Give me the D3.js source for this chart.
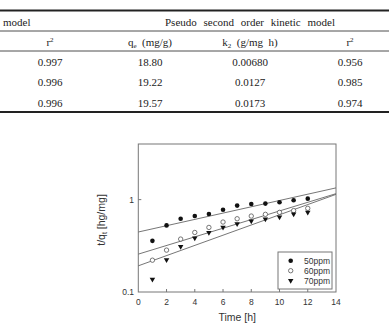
<!DOCTYPE html>
<html>
<head>
<meta charset="utf-8">
<script src="https://cdn.jsdelivr.net/npm/d3@7"></script>
<style>
  body { margin: 0; background: #fff; }
  svg { display: block; }
  .tbl text { font-family: "Liberation Serif", "Times New Roman", serif; font-size: 11px; fill: #222; }
  .chart text { font-family: "Liberation Sans", Arial, sans-serif; fill: #333; }
</style>
</head>
<body>
<div id="vis"></div>
<script>
// ---- table data ----
const tableCols = [50, 150, 250, 350];
const r2First = ["0.997", "0.996", "0.996"];
const qeValues = ["18.80", "19.22", "19.57"];
const k2Values = ["0.00680", "0.0127", "0.0173"];
const r2Second = ["0.956", "0.985", "0.974"];

// ---- chart data ----
const times = [1, 2, 3, 4, 5, 6, 7, 8, 9, 10, 11, 12];
const seriesNames = ["50ppm", "60ppm", "70ppm"];
const y50 = [0.358, 0.526, 0.621, 0.664, 0.699, 0.778, 0.861, 0.898, 0.905, 0.935, 0.983, 1.025];
const y60 = [0.221, 0.284, 0.374, 0.441, 0.500, 0.572, 0.621, 0.664, 0.693, 0.728, 0.760, 0.805];
const y70 = [0.137, 0.223, 0.311, 0.384, 0.441, 0.500, 0.548, 0.587, 0.617, 0.649, 0.699, 0.728];
const fitT = [0, 14];
const fitStart = [0.446, 0.257, 0.192];
const fitEnd = [1.34, 1.16, 1.14];
const xTicks = [0, 2, 4, 6, 8, 10, 12, 14];
const yTicks = [0.1, 1];

const W = 389, H = 325;
const svg = d3.select("#vis").append("svg").attr("width", W).attr("height", H);

// ---------------- table ----------------
const tbl = svg.append("g").attr("class", "tbl");
const rules = [
  { y: 10.5, w: 2 }, { y: 31, w: 0.8 }, { y: 51, w: 0.8 }, { y: 112, w: 2 }
];
tbl.selectAll(".rule").data(rules).join("line")
    .attr("class", "rule")
    .attr("x1", 0).attr("x2", W)
    .attr("y1", d => d.y).attr("y2", d => d.y)
    .attr("stroke", "#222")
    .attr("stroke-width", d => d.w);

tbl.append("text").attr("x", 3).attr("y", 25.5).text("model");
tbl.append("text").attr("x", 165).attr("y", 25.5)
    .attr("word-spacing", 4)
    .text("Pseudo second order kinetic model");

// header row 2
const hdrY = 45.5;
function r2(x) {
  const t = tbl.append("text").attr("x", x).attr("y", hdrY).attr("text-anchor", "middle");
  t.append("tspan").text("r");
  t.append("tspan").attr("dy", -4).attr("font-size", 7).text("2");
}
r2(tableCols[0]);
r2(tableCols[3]);
const qh = tbl.append("text").attr("x", tableCols[1]).attr("y", hdrY).attr("text-anchor", "middle");
qh.append("tspan").text("q");
qh.append("tspan").attr("dy", 2).attr("font-size", 7).text("e");
qh.append("tspan").attr("dy", -2).text("\u00a0\u00a0(mg/g)");
const kh = tbl.append("text").attr("x", tableCols[2]).attr("y", hdrY).attr("text-anchor", "middle");
kh.append("tspan").text("k");
kh.append("tspan").attr("dy", 2).attr("font-size", 7).text("2");
kh.append("tspan").attr("dy", -2).text("\u00a0\u00a0(g/mg\u00a0\u00a0h)");

const rowY = [65.5, 86, 106.5];
[r2First, qeValues, k2Values, r2Second].forEach((col, ci) => {
  tbl.selectAll(".c" + ci).data(col).join("text")
      .attr("class", "c" + ci)
      .attr("x", tableCols[ci])
      .attr("y", (d, i) => rowY[i])
      .attr("text-anchor", "middle")
      .text(d => d);
});

// ---------------- chart ----------------
const chart = svg.append("g").attr("class", "chart");
const x = d3.scaleLinear().domain([0, 14]).range([138.3, 336]);
const y = d3.scaleLog().domain([0.1, 4]).range([292, 144]);

// frame
chart.append("rect")
    .attr("x", x(0)).attr("y", y(4))
    .attr("width", x(14) - x(0)).attr("height", y(0.1) - y(4))
    .attr("fill", "none").attr("stroke", "#777").attr("stroke-width", 1);

// ticks (inward)
chart.selectAll(".xt").data(xTicks.slice(1, -1)).join("line")
    .attr("class", "xt")
    .attr("x1", d => x(d)).attr("x2", d => x(d))
    .attr("y1", y(0.1)).attr("y2", y(0.1) - 3)
    .attr("stroke", "#777");
chart.selectAll(".yt").data(yTicks.slice(1)).join("line")
    .attr("class", "yt")
    .attr("x1", x(0)).attr("x2", x(0) + 3)
    .attr("y1", d => y(d)).attr("y2", d => y(d))
    .attr("stroke", "#777");

chart.selectAll(".xl").data(xTicks).join("text")
    .attr("class", "xl")
    .attr("x", d => x(d)).attr("y", 305)
    .attr("text-anchor", "middle")
    .attr("font-size", 8.5)
    .text(d => d);
chart.selectAll(".yl").data(yTicks).join("text")
    .attr("class", "yl")
    .attr("x", 134).attr("y", d => y(d) + 3)
    .attr("text-anchor", "end")
    .attr("font-size", 8.5)
    .text(d => d);

chart.append("text")
    .attr("x", (x(0) + x(14)) / 2).attr("y", 321)
    .attr("text-anchor", "middle")
    .attr("font-size", 10.5)
    .text("Time [h]");

const yl = chart.append("text")
    .attr("transform", "translate(105,220) rotate(-90)")
    .attr("text-anchor", "middle")
    .attr("font-size", 10.5);
yl.append("tspan").text("t/q");
yl.append("tspan").attr("dy", 2).attr("font-size", 7).text("t");
yl.append("tspan").attr("dy", -2).text(" [hg/mg]");

// fit lines
const line = d3.line().x(d => x(d[0])).y(d => y(d[1]));
seriesNames.forEach((s, i) => {
  chart.append("path")
      .datum(fitT.map((t, j) => [t, j === 0 ? fitStart[i] : fitEnd[i]]))
      .attr("d", line)
      .attr("fill", "none")
      .attr("stroke", "#666")
      .attr("stroke-width", 0.9);
});

// markers
const seriesData = [y50, y60, y70];
const tri = d3.symbol().type(d3.symbolTriangle).size(13);
function marker(sel, i) {
  if (i === 0) {
    sel.append("circle").attr("r", 2.3).attr("fill", "#111");
  } else if (i === 1) {
    sel.append("circle").attr("r", 2.2).attr("fill", "#fff").attr("stroke", "#555").attr("stroke-width", 0.8);
  } else {
    sel.append("path").attr("d", tri).attr("transform", "rotate(180)").attr("fill", "#111");
  }
}
seriesData.forEach((vals, i) => {
  chart.append("g").selectAll("g").data(vals).join("g")
      .attr("transform", (d, j) => `translate(${x(times[j])},${y(d)})`)
      .each(function () { marker(d3.select(this), i); });
});

// legend
const lg = chart.append("g");
lg.append("rect")
    .attr("x", 278).attr("y", 252).attr("width", 54).attr("height", 37)
    .attr("fill", "#fff").attr("stroke", "#777").attr("stroke-width", 1);
seriesNames.forEach((s, i) => {
  const row = lg.append("g").attr("transform", `translate(290.7,${260.7 + i * 10})`);
  marker(row, i);
  row.append("text").attr("x", 13.3).attr("y", 3).attr("font-size", 8.5).text(s);
});
</script>
</body>
</html>
